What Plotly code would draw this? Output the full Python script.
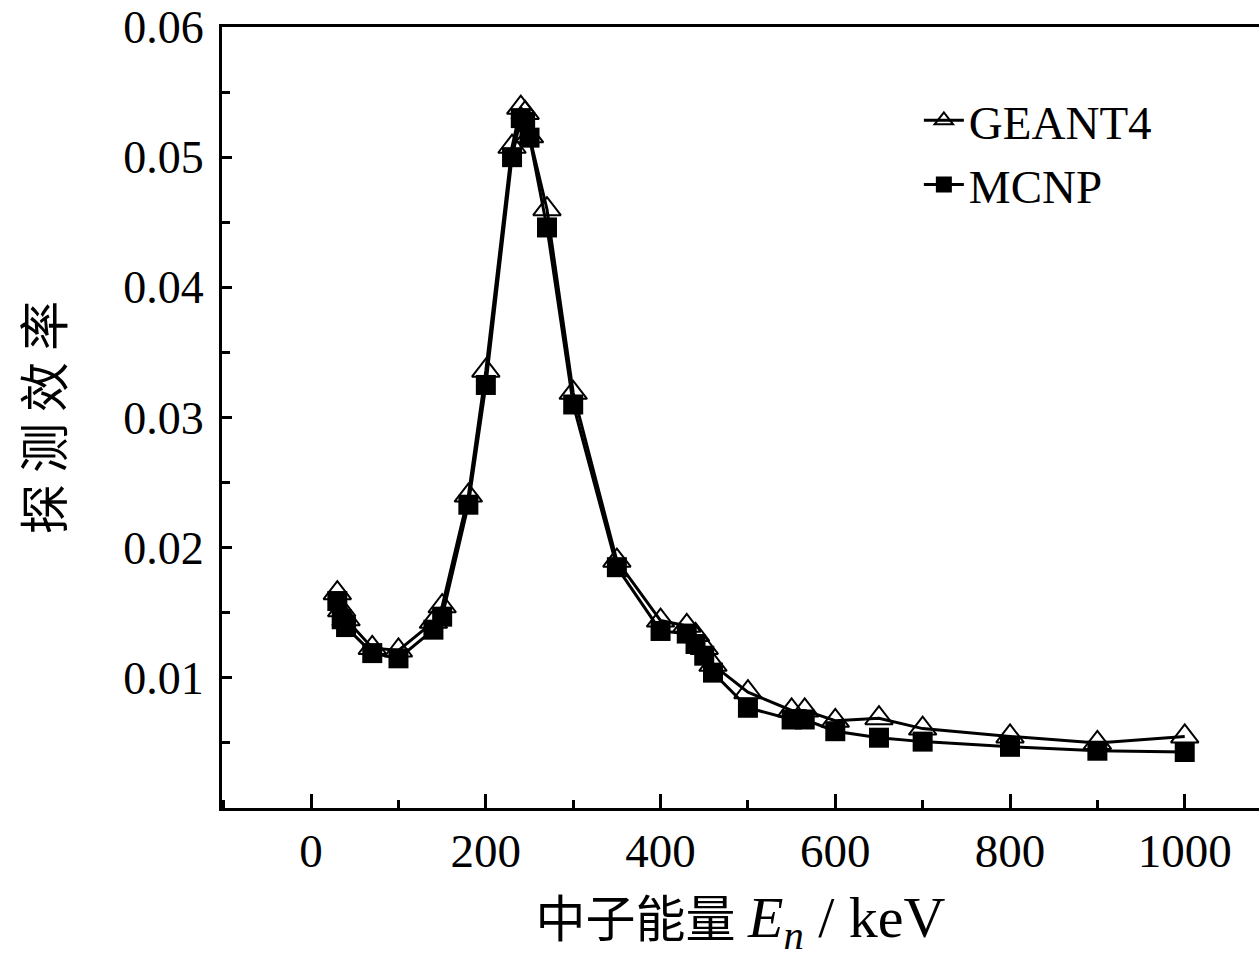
import plotly.graph_objects as go

energy = [30, 35, 40, 70, 100, 140, 150, 180, 200, 230, 240, 245, 250, 270, 300,
          350, 400, 430, 440, 450, 460, 500, 550, 565, 600, 650, 700, 800, 900, 1000]
geant4 = [0.0165, 0.0152, 0.0145, 0.0123, 0.0121, 0.0143, 0.0155, 0.0240, 0.0336, 0.0508,
          0.0538, 0.0534, 0.0516, 0.0460, 0.0319, 0.0190, 0.0144, 0.0140, 0.0133, 0.0123,
          0.0110, 0.0089, 0.0075, 0.0075, 0.0067, 0.0069, 0.0061, 0.0055, 0.0050, 0.0055]
mcnp = [0.0159, 0.0145, 0.0139, 0.0119, 0.0115, 0.0137, 0.0147, 0.0233, 0.0325, 0.0500,
        0.0530, 0.0527, 0.0515, 0.0446, 0.0310, 0.0185, 0.0136, 0.0134, 0.0126, 0.0117,
        0.0104, 0.0077, 0.0068, 0.0068, 0.0059, 0.0054, 0.0051, 0.0047, 0.0044, 0.0043]

y_tickvals = [0.01, 0.02, 0.03, 0.04, 0.05, 0.06]
y_ticktext = ["0.01", "0.02", "0.03", "0.04", "0.05", "0.06"]
x_tickvals = [0, 200, 400, 600, 800, 1000]

SERIF = "Liberation Serif, Times New Roman, Noto Sans CJK SC"

fig = go.Figure()
fig.add_trace(go.Scatter(
    x=energy, y=geant4, name="GEANT4", mode="lines+markers",
    line=dict(color="black", width=3),
    marker=dict(symbol="triangle-up-open", size=24, color="black", line=dict(width=2, color="black")),
))
fig.add_trace(go.Scatter(
    x=energy, y=mcnp, name="MCNP", mode="lines+markers",
    line=dict(color="black", width=3),
    marker=dict(symbol="square", size=20, color="black", line=dict(width=0)),
))

fig.update_layout(
    width=1259, height=961,
    margin=dict(l=222, r=0, t=27, b=153),
    paper_bgcolor="white", plot_bgcolor="white",
    font=dict(family=SERIF, size=46, color="black"),
    showlegend=True,
    legend=dict(x=0.672, y=0.928, xanchor="left", yanchor="top",
                bgcolor="rgba(0,0,0,0)", borderwidth=0,
                font=dict(family=SERIF, size=47, color="black"),
                tracegroupgap=0, itemwidth=40),
)
fig.update_xaxes(
    range=[-102, 1085], showgrid=False, zeroline=False,
    showline=True, linecolor="black", linewidth=3, mirror=True,
    ticks="inside", ticklen=14, tickwidth=3, tickcolor="black",
    tickvals=x_tickvals, ticklabelstandoff=0,
    minor=dict(ticks="inside", ticklen=8, tickwidth=3, tickcolor="black", dtick=100, tick0=0, showgrid=False),
    tickfont=dict(family=SERIF, size=47, color="black"),
    title=dict(text="中子能量 <span style='font-size:58px'><i>E</i><sub><i>n</i></sub> / keV</span>",
               font=dict(family=SERIF, size=50, color="black"), standoff=26),
)
fig.update_yaxes(
    range=[0, 0.06], showgrid=False, zeroline=False,
    showline=True, linecolor="black", linewidth=3, mirror=False,
    ticks="inside", ticklen=10, tickwidth=3, tickcolor="black",
    tickvals=y_tickvals, ticktext=y_ticktext, ticklabelstandoff=6,
    minor=dict(ticks="inside", ticklen=8, tickwidth=3, tickcolor="black", dtick=0.005, tick0=0, showgrid=False),
    tickfont=dict(family=SERIF, size=46, color="black"),
    title=dict(text="探 测 效 率", font=dict(family="Noto Sans CJK SC", size=50, color="black"), standoff=44),
)

fig.write_html("out.html")
